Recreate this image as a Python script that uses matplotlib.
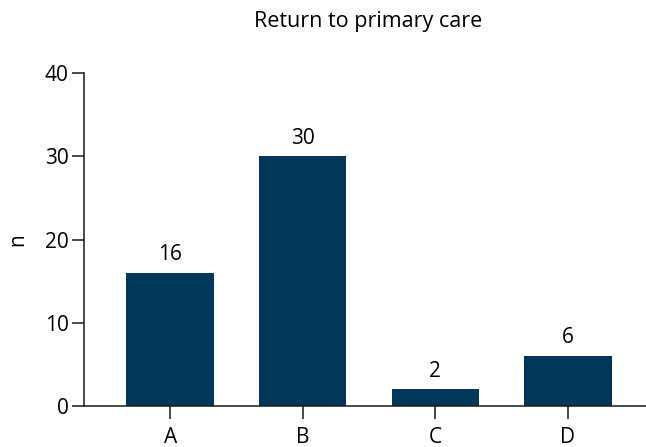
import matplotlib.pyplot as plt

# data
categories = ['A', 'B', 'C', 'D']
counts = [16, 30, 2, 6]
title = 'Return to primary care'

plt.rcParams['font.family'] = ['Open Sans', 'DejaVu Sans']

fig = plt.figure(figsize=(6.46, 4.47), dpi=100)
ax = fig.add_axes([0.130, 0.0917, 0.870, 0.745])

x = range(len(categories))
bars = ax.bar(x, counts, width=0.66, color='#03375a')

for xi, v in zip(x, counts):
    ax.annotate(str(v), (xi, v), xytext=(0, 5.5), textcoords='offset points',
                ha='center', va='bottom', fontsize=15)

ax.set_xlim(-0.65, 3.59)
ax.set_ylim(0, 40)
ax.set_yticks([0, 10, 20, 30, 40])
ax.set_xticks(list(x))
ax.set_xticklabels(categories)

for s in ['top', 'right']:
    ax.spines[s].set_visible(False)
for s in ['left', 'bottom']:
    ax.spines[s].set_linewidth(1.1)
    ax.spines[s].set_color('#1a1a1a')

ax.tick_params(axis='both', direction='out', length=9, width=1.1,
               color='#1a1a1a', labelsize=15)
# keep the category letters just inside the bottom edge
ax.tick_params(axis='x', pad=6)
ax.tick_params(axis='y', pad=2)

ax.set_ylabel('n', fontsize=15, labelpad=12)
fig.text(0.570, 0.951, title, ha='center', va='center', fontsize=15.5)

fig.savefig('out.png', dpi=100)
